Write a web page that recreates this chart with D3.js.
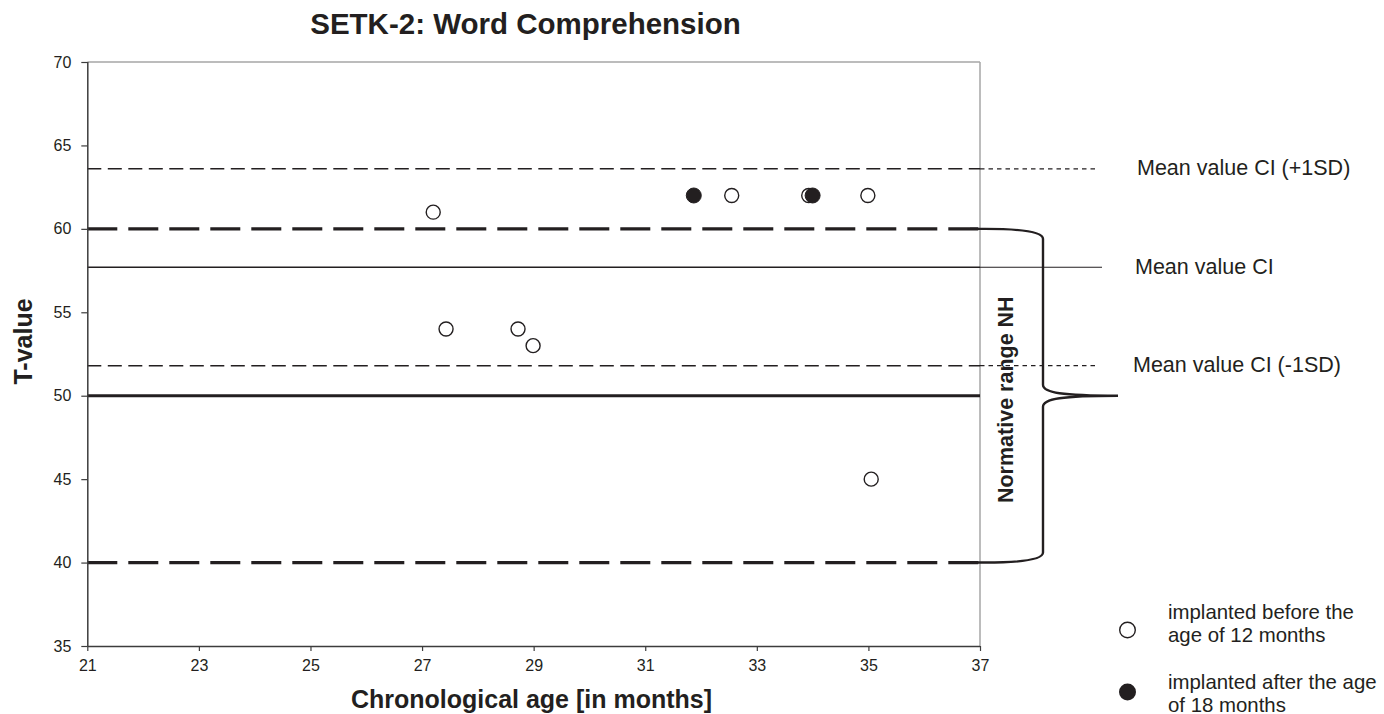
<!DOCTYPE html>
<html>
<head>
<meta charset="utf-8">
<script src="https://cdn.jsdelivr.net/npm/d3@7"></script>
<style>
  html, body { margin: 0; padding: 0; background: #fff; }
  svg { display: block; font-family: "Liberation Sans", Arial, sans-serif; }
</style>
</head>
<body>
<svg id="chart" width="1384" height="714"></svg>
<script>
// Age (months) and T-value of each child, by implantation group
const earlyAge = [27.2, 27.43, 28.72, 28.99, 32.55, 33.93, 34.99, 35.05];
const earlyT   = [61, 54, 54, 53, 62, 62, 62, 45];
const lateAge  = [31.87, 34.0];
const lateT    = [62, 62];

// Reference lines (T-values)
const meanCI = 57.7;
const meanCIplus = 63.6;
const meanCIminus = 51.8;
const normMid = 50;
const normLow = 40;
const normHigh = 60;

const xTicks = [21, 23, 25, 27, 29, 31, 33, 35, 37];
const yTicks = [35, 40, 45, 50, 55, 60, 65, 70];

const refLabels = ["Mean value CI (+1SD)", "Mean value CI", "Mean value CI (-1SD)"];
const legendLabels = [["implanted before the", "age of 12 months"], ["implanted after the age", "of 18 months"]];

const svg = d3.select("#chart");
const plotL = 87.3, plotR = 980, plotT = 62, plotB = 646;

const x = d3.scaleLinear().domain([21, 37]).range([plotL, plotR]);
const y = d3.scaleLinear().domain([35, 70]).range([plotB, plotT]);

// Title
svg.append("text")
  .attr("x", 525.5).attr("y", 33.5)
  .attr("text-anchor", "middle")
  .attr("font-size", 29.5).attr("font-weight", "bold").attr("fill", "#231f20")
  .text("SETK-2: Word Comprehension");

// Top and right frame in light gray
svg.append("line").attr("x1", plotL).attr("x2", plotR).attr("y1", plotT).attr("y2", plotT)
  .attr("stroke", "#a6a6a6").attr("stroke-width", 1.5);
svg.append("line").attr("x1", plotR).attr("x2", plotR).attr("y1", plotT).attr("y2", plotB)
  .attr("stroke", "#a6a6a6").attr("stroke-width", 1.5);

// Normative range boundaries
[normHigh, normLow].forEach(v => {
  svg.append("line")
    .attr("x1", plotL).attr("x2", plotR).attr("y1", y(v)).attr("y2", y(v))
    .attr("stroke", "#231f20").attr("stroke-width", 3.2)
    .attr("stroke-dasharray", "30,11");
});
svg.append("line")
  .attr("x1", plotL).attr("x2", plotR).attr("y1", y(normMid)).attr("y2", y(normMid))
  .attr("stroke", "#231f20").attr("stroke-width", 3);

// CI reference lines: inside plot and extended toward the labels
const refs = [
  {v: meanCIplus, dashIn: "14,6.5", dashOut: "4.5,4", end: 1098},
  {v: meanCI, dashIn: null, dashOut: null, end: 1102},
  {v: meanCIminus, dashIn: "14,6.5", dashOut: "4.5,4", end: 1097}
];
refs.forEach((r, i) => {
  svg.append("line")
    .attr("x1", plotL).attr("x2", plotR).attr("y1", y(r.v)).attr("y2", y(r.v))
    .attr("stroke", "#231f20").attr("stroke-width", 1.4)
    .attr("stroke-dasharray", r.dashIn);
  svg.append("line")
    .attr("x1", plotR).attr("x2", r.end).attr("y1", y(r.v)).attr("y2", y(r.v))
    .attr("stroke", "#231f20").attr("stroke-width", 1.2)
    .attr("stroke-dasharray", r.dashOut);
  const lx = [1137, 1135, 1133][i];
  svg.append("text")
    .attr("x", lx).attr("y", y(r.v) + 6.5)
    .attr("font-size", 21.5).attr("fill", "#231f20")
    .text(refLabels[i]);
});

// Brace marking the normative range
const bx = 1043, tipX = 1118;
const yt = y(normHigh), ym = y(normMid), yb = y(normLow);
const brace = d3.path();
brace.moveTo(970, yt);
brace.lineTo(985, yt);
brace.bezierCurveTo(1022, yt, bx, yt + 3, bx, yt + 10);
brace.lineTo(bx, ym - 11);
brace.bezierCurveTo(bx, ym - 3, 1062, ym, tipX, ym);
brace.bezierCurveTo(1062, ym, bx, ym + 3, bx, ym + 11);
brace.lineTo(bx, yb - 10);
brace.bezierCurveTo(bx, yb - 3, 1022, yb, 985, yb);
brace.lineTo(970, yb);
svg.append("path").attr("d", brace.toString())
  .attr("fill", "none").attr("stroke", "#231f20").attr("stroke-width", 2.4);

svg.append("text")
  .attr("transform", `translate(1012.5, ${(y(normHigh) + y(normLow)) / 2 + 4}) rotate(-90)`)
  .attr("text-anchor", "middle")
  .attr("font-size", 21.5).attr("font-weight", "bold").attr("fill", "#231f20")
  .text("Normative range NH");

// Axes
const xAxis = svg.append("g").attr("transform", `translate(0,${plotB})`)
  .call(d3.axisBottom(x).tickValues(xTicks).tickSize(5).tickPadding(9).tickFormat(d3.format("d")));
const yAxis = svg.append("g").attr("transform", `translate(${plotL},0)`)
  .call(d3.axisLeft(y).tickValues(yTicks).tickSize(6).tickPadding(10).tickFormat(d3.format("d")));
[xAxis, yAxis].forEach(g => {
  g.attr("font-size", null).attr("font-family", null);
  g.select(".domain").attr("stroke", "#3c3c3c").attr("stroke-width", 1.5);
  g.selectAll(".tick line").attr("stroke", "#3c3c3c").attr("stroke-width", 1.2);
  g.selectAll(".tick text").attr("fill", "#231f20")
    .style("font-size", "16px").style("font-family", "'Liberation Sans', Arial, sans-serif");
});
xAxis.select(".domain").attr("d", `M${plotL},0.5H${plotR}`);
yAxis.select(".domain").attr("d", `M0.5,${plotT}V${plotB}`);

// Axis titles
svg.append("text")
  .attr("x", 531.5).attr("y", 708)
  .attr("text-anchor", "middle")
  .attr("font-size", 25).attr("font-weight", "bold").attr("fill", "#231f20")
  .text("Chronological age [in months]");
svg.append("text")
  .attr("transform", "translate(31.5, 341.5) rotate(-90)")
  .attr("text-anchor", "middle")
  .attr("font-size", 25).attr("font-weight", "bold").attr("fill", "#231f20")
  .text("T-value");

// Data points
const early = earlyAge.map((a, i) => ({a, t: earlyT[i]}));
const late = lateAge.map((a, i) => ({a, t: lateT[i]}));
svg.append("g").selectAll("circle").data(early).join("circle")
  .attr("cx", d => x(d.a)).attr("cy", d => y(d.t)).attr("r", 7)
  .attr("fill", "#fff").attr("stroke", "#231f20").attr("stroke-width", 1.4);
svg.append("g").selectAll("circle").data(late).join("circle")
  .attr("cx", d => x(d.a)).attr("cy", d => y(d.t)).attr("r", 7.5)
  .attr("fill", "#231f20").attr("stroke", "#231f20").attr("stroke-width", 1);

// Legend
const legend = svg.append("g");
legend.append("circle").attr("cx", 1127.5).attr("cy", 630).attr("r", 7.8)
  .attr("fill", "#fff").attr("stroke", "#231f20").attr("stroke-width", 1.4);
legend.append("circle").attr("cx", 1127.5).attr("cy", 692).attr("r", 8.5)
  .attr("fill", "#231f20");
[[618.5, 642], [689, 711.5]].forEach((ys, i) => {
  legendLabels[i].forEach((t, j) => {
    legend.append("text")
      .attr("x", 1168).attr("y", ys[j])
      .attr("font-size", 20.4).attr("fill", "#231f20")
      .text(t);
  });
});
</script>
</body>
</html>
